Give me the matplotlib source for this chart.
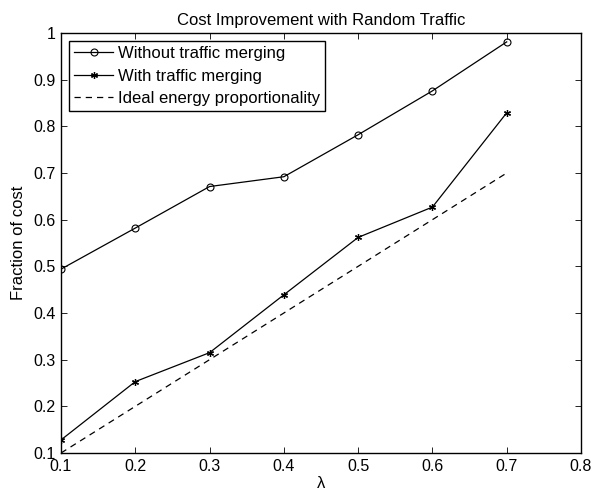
import matplotlib
matplotlib.use("Agg")
import matplotlib.pyplot as plt

plt.rcParams['font.family'] = ['Liberation Sans', 'DejaVu Sans']

lam = [0.1, 0.2, 0.3, 0.4, 0.5, 0.6, 0.7]
without_merging = [0.494, 0.582, 0.671, 0.692, 0.782, 0.876, 0.981]
with_merging = [0.128, 0.253, 0.315, 0.439, 0.562, 0.627, 0.829]
ideal_x = [0.1, 0.7]
ideal_y = [0.1, 0.7]

xticks = [0.1, 0.2, 0.3, 0.4, 0.5, 0.6, 0.7, 0.8]
yticks = [0.1, 0.2, 0.3, 0.4, 0.5, 0.6, 0.7, 0.8, 0.9, 1.0]
xticklabels = ['0.1', '0.2', '0.3', '0.4', '0.5', '0.6', '0.7', '0.8']
yticklabels = ['0.1', '0.2', '0.3', '0.4', '0.5', '0.6', '0.7', '0.8', '0.9', '1']

fig = plt.figure(figsize=(5.94, 4.93), dpi=100)
ax = fig.add_axes([61/594, 40/493, 520/594, 420/493])

ax.plot(lam, without_merging, color='black', lw=0.9, marker='o', ms=5,
        mfc='none', mec='black', mew=0.8, label='Without traffic merging')
ax.plot(lam, with_merging, color='black', lw=0.9, marker=(6, 2, 0), ms=5,
        mec='black', mew=0.9, label='With traffic merging')
ax.plot(ideal_x, ideal_y, color='black', lw=0.9, ls=(0, (5, 4)),
        label='Ideal energy proportionality')

ax.set_xlim(0.1, 0.8)
ax.set_ylim(0.1, 1.0)
ax.set_xticks(xticks)
ax.set_xticklabels(xticklabels)
ax.set_yticks(yticks)
ax.set_yticklabels(yticklabels)
ax.tick_params(direction='in', length=4, width=0.6, labelsize=11.5,
               top=True, right=True, pad=4)
for s in ax.spines.values():
    s.set_linewidth(1.0)

ax.set_xlabel('λ', fontsize=12, labelpad=2)
ax.set_ylabel('Fraction of cost', fontsize=12, labelpad=5)
ax.set_title('Cost Improvement with Random Traffic', fontsize=12, pad=6)

leg = ax.legend(loc='upper left', fontsize=12, frameon=True, fancybox=False,
                edgecolor='black', framealpha=1, borderpad=0.3,
                handlelength=2.3, handletextpad=0.3, labelspacing=0.45,
                borderaxespad=0.5)
leg.get_frame().set_linewidth(1.0)

fig.savefig('out.png', dpi=100)
